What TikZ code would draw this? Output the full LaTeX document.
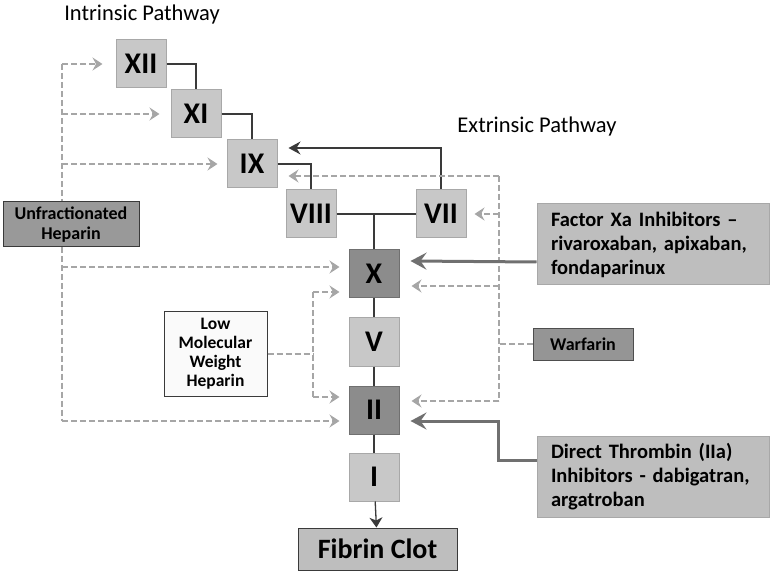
\documentclass[tikz,border=0pt]{standalone}
\usepackage{fontspec}
\setmainfont{Carlito}
\usepackage{tikz}
\usetikzlibrary{calc,arrows.meta}
\definecolor{line}{HTML}{3A3A3A}
\definecolor{dash}{HTML}{A6A6A6}
\definecolor{inhib}{HTML}{707070}
\definecolor{light}{HTML}{C8C8C8}
\definecolor{lightedge}{HTML}{A8A8A8}
\definecolor{dark}{HTML}{8C8C8C}
\definecolor{darkedge}{HTML}{707070}
\definecolor{drug}{HTML}{BEBEBE}
\definecolor{heparin}{HTML}{999999}
\definecolor{warfc}{HTML}{959595}
\tikzset{
  base/.style={draw=line, line width=1.3pt},
  help/.style={draw=dash, line width=1.4pt, dash pattern=on 6pt off 3pt},
  inh/.style={draw=inhib, line width=3pt},
  fac/.style={draw=lightedge, fill=light, line width=1pt, minimum width=50pt, minimum height=48pt,
    inner sep=0pt, font=\fontsize{30}{32}\selectfont\bfseries},
  facd/.style={fac, draw=darkedge, fill=dark},
  box/.style={draw=line, line width=1pt, inner sep=0pt, font=\fontsize{18}{20}\selectfont\bfseries, align=center},
  drugbox/.style={draw=lightedge, fill=drug, line width=1pt, inner xsep=14pt, inner ysep=0pt,
    minimum width=232pt, minimum height=81pt, text width=204pt, align=left,
    font=\fontsize{20.5}{24}\selectfont\bfseries},
  lab/.style={font=\fontsize{22.5}{24}\selectfont},
  tipd/.style={-{Stealth[length=10pt,width=13pt,inset=3.5pt]}},
  tips/.style={-{Stealth[length=12pt,width=13pt,inset=4pt]}},
  tipi/.style={-{Stealth[length=16pt,width=17pt,inset=6pt]}},
}
\begin{document}
\begin{tikzpicture}[x=1pt,y=-1pt]
  \useasboundingbox (0,0) rectangle (771,577);
  % titles
  \node[lab] (intr) at (142,15) {Intrinsic Pathway};
  \node[lab] (extr) at (537,127) {Extrinsic Pathway};
  % factors
  \node[fac] (xii) at (141,64) {XII};
  \node[fac] (xi) at (196,114) {XI};
  \node[fac] (ix) at (252,164) {IX};
  \node[fac] (viii) at (311,214) {VIII};
  \node[fac] (vii) at (441,214) {VII};
  \node[facd] (x) at (374,274) {X};
  \node[fac] (v) at (374,342) {V};
  \node[facd] (ii) at (374,410) {II};
  \node[fac] (i) at (374,477) {I};
  \node[box, fill=drug, minimum width=159pt, minimum height=42pt, font=\fontsize{28}{30}\selectfont\bfseries]
    (clot) at (377.5,549) {Fibrin Clot};
  % drugs
  \node[box, fill=heparin, minimum width=136pt, minimum height=45pt] (ufh) at (71,224.5)
    {Unfractionated\\Heparin};
  \node[box, fill=white!98!black, minimum width=103pt, minimum height=84pt, font=\fontsize{17.5}{19}\selectfont\bfseries]
    (lmwh) at (215.5,354) {Low\\Molecular\\Weight\\Heparin};
  \node[box, draw=darkedge!70!black, fill=warfc, minimum width=100pt, minimum height=32pt] (warf) at (583,344)
    {Warfarin};
  \node[drugbox] (fxa) at (653,244.5) {Factor Xa Inhibitors --\\rivaroxaban, apixaban,\\fondaparinux};
  \node[drugbox] (dti) at (653,476.5) {Direct Thrombin (IIa)\\Inhibitors - dabigatran,\\argatroban};
  % cascade
  \draw[base] (xii.east) -| (xi.north);
  \draw[base] (xi.east) -| (ix.north);
  \draw[base] (ix.east) -| (viii.north);
  \draw[base] (viii.east) -- (vii.west);
  \draw[base] (x.north) -- (x.north |- vii.west);
  \draw[base,tips] (vii.north) |- ([xshift=11pt,yshift=16pt]ix.east);
  \draw[base] (x) -- (v);
  \draw[base] (v) -- (ii);
  \draw[base] (ii) -- (i);
  \draw[base,-{Stealth[length=10pt,width=13pt,inset=3pt]}] (i) -- (clot);
  % unfractionated heparin
  \coordinate (ut) at (62,64);
  \coordinate (ub) at (62,421);
  \draw[help] (ut) -- (ut |- ufh.north);
  \draw[help] (ut |- ufh.south) -- (ub);
  \draw[help,tipd] (ut) -- ([xshift=-13pt]xii.west);
  \draw[help,tipd] (ut |- xi.west) -- ([xshift=-11pt]xi.west);
  \draw[help,tipd] (ut |- ix.west) -- ([xshift=-9pt]ix.west);
  \draw[help,tipd] (ut |- 0,267) -- ([xshift=-9pt,yshift=7pt]x.west);
  \draw[help,tipd] (ub) -- ([xshift=-9pt,yshift=-11pt]ii.west);
  % low molecular weight heparin
  \coordinate (lt) at (313,292);
  \coordinate (lb) at (313,397);
  \draw[help] (lmwh.east) -- (lmwh.east -| lt);
  \draw[help] (lt) -- (lb);
  \draw[help,tipd] (lt) -- ([xshift=-9pt,yshift=-18pt]x.west);
  \draw[help,tipd] (lb) -- ([xshift=-9pt,yshift=13pt]ii.west);
  % warfarin
  \coordinate (wt) at (499,176);
  \coordinate (wb) at (499,401);
  \draw[help] (warf.west) -- (warf.west -| wt);
  \draw[help] (wt) -- (wb);
  \draw[help,tipd] (wt) -- ([xshift=11pt,yshift=-12pt]ix.east);
  \draw[help,tipd] (wt |- vii.east) -- ([xshift=8pt]vii.east);
  \draw[help,tipd] (wt |- 0,286) -- ([xshift=12pt,yshift=-12pt]x.east);
  \draw[help,tipd] (wb) -- ([xshift=12pt,yshift=9pt]ii.east);
  % direct inhibitors
  \coordinate (dbend) at (498,421);
  \draw[inh,tipi] ([yshift=-17.5pt]fxa.west) -- ([xshift=11pt,yshift=13pt]x.east);
  \draw[inh,tipi] ([yshift=16.5pt]dti.west) -| (dbend) -- ([xshift=11pt,yshift=-11pt]ii.east);
\end{tikzpicture}
\end{document}
